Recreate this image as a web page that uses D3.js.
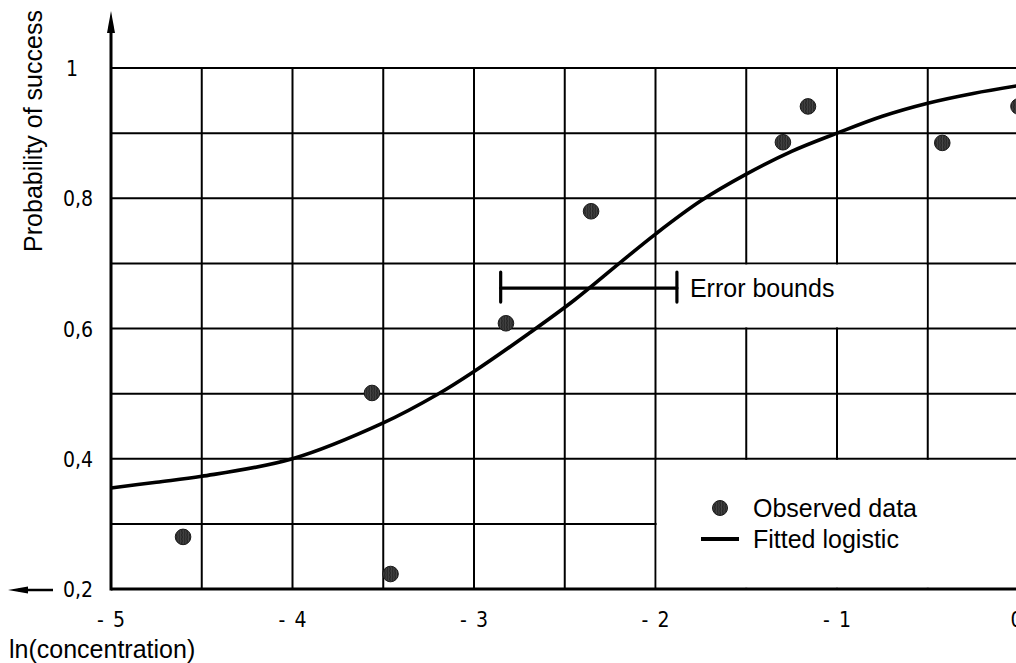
<!DOCTYPE html>
<html><head><meta charset="utf-8">
<script src="https://cdn.jsdelivr.net/npm/d3@7/dist/d3.min.js"></script>
<style>html,body{margin:0;padding:0;background:#fff;overflow:hidden}</style>
</head><body><svg id="c" width="1016" height="663"></svg>
<script>
// Data
const obsX = [-4.603, -3.562, -3.46, -2.824, -2.355, -1.298, -1.16, -0.42, 0];
const obsY = [0.280, 0.501, 0.223, 0.608, 0.780, 0.886, 0.941, 0.885, 0.941];
const fitX = [-5, -4.75, -4.5, -4, -3.5, -3.2, -3, -2.7, -2.45, -2.2, -2, -1.75, -1.5, -1.25, -1, -0.75, -0.5, -0.25, 0];
const fitY = [0.355, 0.364, 0.373, 0.400, 0.455, 0.499, 0.534, 0.592, 0.643, 0.700, 0.745, 0.796, 0.837, 0.872, 0.900, 0.926, 0.946, 0.961, 0.973];
const errX = [-2.853, -1.882];
const errY = 0.662;
const xTicks = [-5, -4, -3, -2, -1, 0];
const xTickLabels = ["- 5", "- 4", "- 3", "- 2", "- 1", "0"];
const yTicks = [0.2, 0.4, 0.6, 0.8, 1];
const yTickLabels = ["0,2", "0,4", "0,6", "0,8", "1"];
const xGrid = [-4.5, -4, -3.5, -3, -2.5, -2, -1.5, -1, -0.5, 0];
const yGrid = [0.3, 0.4, 0.5, 0.6, 0.7, 0.8, 0.9, 1.0];

const svg = d3.select("#c");
const x = d3.scaleLinear().domain([-5, 0]).range([111, 1018.5]);
const y = d3.scaleLinear().domain([0.2, 1]).range([589, 68]);

const defs = svg.append("defs");
const pat = defs.append("pattern").attr("id","hatch").attr("patternUnits","userSpaceOnUse")
  .attr("width",2.6).attr("height",4);
pat.append("rect").attr("width",2.6).attr("height",4).attr("fill","#262626");
pat.append("path").attr("d","M1.3,0 Q2.2,1 1.3,2 Q0.4,3 1.3,4").attr("stroke","#6a6a6a").attr("stroke-width",0.6).attr("fill","none");

// grid
const g = svg.append("g").attr("stroke","#000").attr("stroke-width",2);
xGrid.forEach(v => g.append("line").attr("x1",x(v)).attr("x2",x(v)).attr("y1",y(0.2)).attr("y2",y(1)));
yGrid.forEach(v => g.append("line").attr("x1",x(-5)).attr("x2",x(0)+10).attr("y1",y(v)).attr("y2",y(v)));

// cleared areas (text boxes)
svg.append("rect").attr("x",x(-2)+1.2).attr("y",y(0.7)+1.2)
  .attr("width",x(-0.5)-x(-2)-2.4).attr("height",y(0.6)-y(0.7)-2.4).attr("fill","#fff");
svg.append("rect").attr("x",x(-2)+1.2).attr("y",y(0.4)+1.2)
  .attr("width",x(0)-x(-2)+10).attr("height",y(0.2)-y(0.4)-2.4).attr("fill","#fff");

// axes
svg.append("line").attr("x1",x(-5)).attr("x2",1016).attr("y1",y(0.2)).attr("y2",y(0.2))
  .attr("stroke","#000").attr("stroke-width",3);
svg.append("line").attr("x1",x(-5)).attr("x2",x(-5)).attr("y1",y(0.2)+1.5).attr("y2",22)
  .attr("stroke","#000").attr("stroke-width",3);
svg.append("path").attr("d",`M${x(-5)},11 L${x(-5)-4},33 L${x(-5)+4},33 Z`).attr("fill","#000");
svg.append("line").attr("x1",18).attr("x2",53).attr("y1",y(0.2)+1).attr("y2",y(0.2)+1)
  .attr("stroke","#000").attr("stroke-width",2.5);
svg.append("path").attr("d",`M8,${y(0.2)+1} L28,${y(0.2)-2.5} L28,${y(0.2)+4.5} Z`).attr("fill","#000");

// fitted curve
const line = d3.line().x(d => x(d[0])).y(d => y(d[1])).curve(d3.curveCatmullRom.alpha(0.5));
svg.append("path").datum(fitX.map((v,i)=>[v,fitY[i]])).attr("d",line)
  .attr("fill","none").attr("stroke","#000").attr("stroke-width",3.6);

// error bar
const eb = svg.append("g").attr("stroke","#000").attr("stroke-width",3.2).attr("stroke-linecap","round");
eb.append("line").attr("x1",x(errX[0])).attr("x2",x(errX[1])).attr("y1",y(errY)).attr("y2",y(errY));
errX.forEach(v => eb.append("line").attr("x1",x(v)).attr("x2",x(v)).attr("y1",y(errY)-16).attr("y2",y(errY)+14));
const lf = "Liberation Sans, Arial, sans-serif";
svg.append("text").attr("x",x(errX[1])+13).attr("y",y(errY)+9)
  .attr("font-family",lf).attr("font-size",25).text("Error bounds");

// observed points
svg.append("g").selectAll("circle").data(obsX.map((v,i)=>[v,obsY[i]])).join("circle")
  .attr("cx",d=>x(d[0])).attr("cy",d=>y(d[1])).attr("r",7.8)
  .attr("fill","url(#hatch)").attr("stroke","#1a1a1a").attr("stroke-width",1);

// legend
svg.append("circle").attr("cx",720).attr("cy",508).attr("r",7.5).attr("fill","url(#hatch)").attr("stroke","#1a1a1a");
svg.append("line").attr("x1",701).attr("x2",739).attr("y1",539).attr("y2",539).attr("stroke","#000").attr("stroke-width",4);
svg.append("text").attr("x",753).attr("y",517).attr("font-family",lf).attr("font-size",25).text("Observed data");
svg.append("text").attr("x",753).attr("y",548).attr("font-family",lf).attr("font-size",25).text("Fitted logistic");

// tick labels
const tf = "DejaVu Sans Condensed, DejaVu Sans, sans-serif";
svg.append("g").selectAll("text").data(xTicks).join("text")
  .attr("x",d=>x(d)+(d===0?-2:0)).attr("y",627).attr("text-anchor","middle")
  .attr("font-family",tf).attr("font-size",21).attr("word-spacing",3)
  .style("white-space","pre").text((d,i)=>xTickLabels[i]);
svg.append("g").selectAll("text").data(yTicks).join("text")
  .attr("x",d=>d===1?66:63).attr("y",d=>y(d)+8).attr("text-anchor","start")
  .attr("font-family",tf).attr("font-size",21)
  .text((d,i)=>yTickLabels[i]);

// axis titles
svg.append("text").attr("x",9).attr("y",658).attr("font-family",lf).attr("font-size",25).text("ln(concentration)");
svg.append("text").attr("transform","translate(42,131) rotate(-90)").attr("text-anchor","middle")
  .attr("font-family",lf).attr("font-size",25).text("Probability of success");
</script></body></html>
